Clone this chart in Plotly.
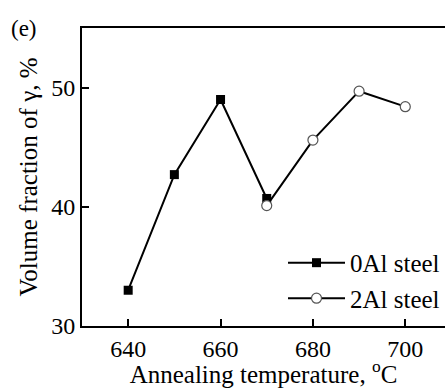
import plotly.graph_objects as go

temps_0al = [640, 650, 660, 670]
frac_0al = [33.0, 42.7, 49.0, 40.7]
temps_2al = [670, 680, 690, 700]
frac_2al = [40.1, 45.6, 49.7, 48.4]
x_ticks = [640, 660, 680, 700]
y_ticks = [30, 40, 50]

FONT = "Liberation Serif"

fig = go.Figure()
fig.add_trace(go.Scatter(x=temps_0al, y=frac_0al, mode="lines+markers", name="0Al steel",
                         line=dict(color="black", width=2),
                         marker=dict(symbol="square", size=9, color="black")))
fig.add_trace(go.Scatter(x=temps_2al, y=frac_2al, mode="lines+markers", name="2Al steel",
                         line=dict(color="black", width=2),
                         marker=dict(symbol="circle", size=10, color="white",
                                     line=dict(color="#555", width=1.2))))

fig.update_layout(
    width=445, height=388,
    margin=dict(l=82, r=0, t=28, b=62),
    paper_bgcolor="white", plot_bgcolor="white",
    font=dict(family=FONT, size=24, color="black"),
    showlegend=True,
    legend=dict(x=1.0, y=0.017, xanchor="right", yanchor="bottom",
                bgcolor="rgba(0,0,0,0)", font=dict(size=25, family=FONT),
                itemwidth=57, tracegroupgap=0),
)
fig.add_annotation(text="(e)", xref="paper", yref="paper", x=-0.2, y=1.0,
                   xanchor="left", yanchor="middle", showarrow=False,
                   font=dict(size=23, family=FONT))
fig.update_xaxes(range=[630, 708.6], tickvals=x_ticks, ticks="inside", ticklen=7,
                 tickwidth=2, tickcolor="black", showline=True, linecolor="black",
                 linewidth=2, mirror=True, showgrid=False, zeroline=False,
                 title=dict(text="Annealing temperature, <sup>o</sup>C", standoff=2,
                            font=dict(size=25, family=FONT)),
                 tickfont=dict(size=24, family=FONT))
fig.update_yaxes(range=[30, 55], tickvals=y_ticks, ticks="inside", ticklen=7,
                 tickwidth=2, tickcolor="black", showline=True, linecolor="black",
                 linewidth=2, mirror=False, showgrid=False, zeroline=False,
                 title=dict(text="Volume fraction of γ, %", standoff=6,
                            font=dict(size=25, family=FONT)),
                 tickfont=dict(size=24, family=FONT))

fig.write_html("out.html")
